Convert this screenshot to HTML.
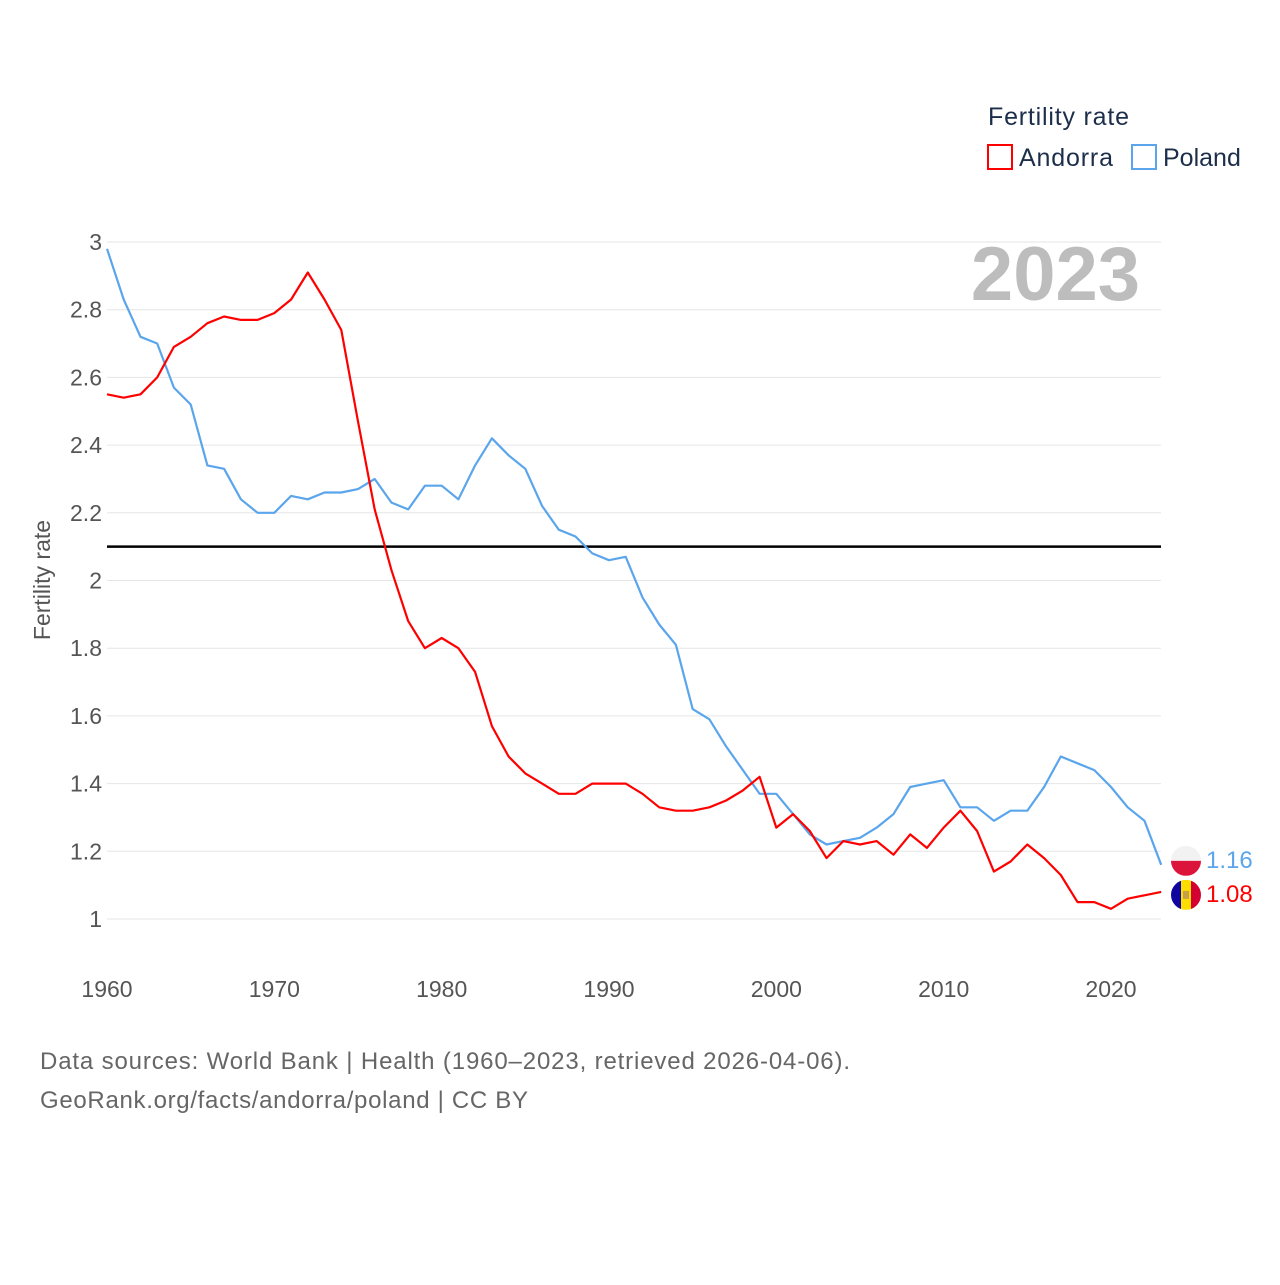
<!DOCTYPE html>
<html><head><meta charset="utf-8"><style>
body{margin:0;background:#fff;font-family:"Liberation Sans",sans-serif}
svg text{font-family:"Liberation Sans",sans-serif}
</style></head><body>
<svg id="chart" width="1280" height="1280" viewBox="0 0 1280 1280" xmlns="http://www.w3.org/2000/svg">
<rect width="1280" height="1280" fill="#fff"/>
<g id="grid"></g>
<g id="yticks"></g>
<g id="xticks"></g>
<text transform="translate(50,580) rotate(-90)" text-anchor="middle" font-size="23" fill="#555">Fertility rate</text>
<text x="1140" y="300" text-anchor="end" font-size="76" font-weight="bold" fill="#bdbdbd">2023</text>
<line id="refline" stroke="#000" stroke-width="2.5"/>
<g id="series"></g>
<g>
<text x="988" y="125" font-size="25" fill="#1c2e4a" textLength="141">Fertility rate</text>
<rect x="988" y="145" width="24" height="24" fill="none" stroke="#f00" stroke-width="2"/>
<text x="1019" y="166" font-size="25" fill="#1c2e4a" textLength="94">Andorra</text>
<rect x="1132" y="145" width="24" height="24" fill="none" stroke="#5aa5ec" stroke-width="2"/>
<text x="1163" y="166" font-size="25" fill="#1c2e4a">Poland</text>
</g>
<text x="40" y="1069" font-size="24" fill="#666" textLength="810">Data sources: World Bank | Health (1960–2023, retrieved 2026-04-06).</text>
<text x="40" y="1108" font-size="24" fill="#666" textLength="488">GeoRank.org/facts/andorra/poland | CC BY</text>
</svg>
<script>
const years=[];for(let y=1960;y<=2023;y++)years.push(y);
const andorra=[2.55,2.54,2.55,2.60,2.69,2.72,2.76,2.78,2.77,2.77,2.79,2.83,2.91,2.83,2.74,2.47,2.21,2.03,1.88,1.80,1.83,1.80,1.73,1.57,1.48,1.43,1.40,1.37,1.37,1.40,1.40,1.40,1.37,1.33,1.32,1.32,1.33,1.35,1.38,1.42,1.27,1.31,1.26,1.18,1.23,1.22,1.23,1.19,1.25,1.21,1.27,1.32,1.26,1.14,1.17,1.22,1.18,1.13,1.05,1.05,1.03,1.06,1.07,1.08];
const poland=[2.98,2.83,2.72,2.70,2.57,2.52,2.34,2.33,2.24,2.20,2.20,2.25,2.24,2.26,2.26,2.27,2.30,2.23,2.21,2.28,2.28,2.24,2.34,2.42,2.37,2.33,2.22,2.15,2.13,2.08,2.06,2.07,1.95,1.87,1.81,1.62,1.59,1.51,1.44,1.37,1.37,1.31,1.25,1.22,1.23,1.24,1.27,1.31,1.39,1.40,1.41,1.33,1.33,1.29,1.32,1.32,1.39,1.48,1.46,1.44,1.39,1.33,1.29,1.16];
const yTicks=[1,1.2,1.4,1.6,1.8,2,2.2,2.4,2.6,2.8,3];
const xTicks=[1960,1970,1980,1990,2000,2010,2020];
const refValue=2.1;
const NS="http://www.w3.org/2000/svg";
const X=y=>107+(y-1960)*(1111-107)/60;
const Y=v=>919-(v-1)*(919-242)/2;
function mk(t,a,p){const e=document.createElementNS(NS,t);for(const k in a)e.setAttribute(k,a[k]);p.appendChild(e);return e;}
const grid=document.getElementById('grid'),yt=document.getElementById('yticks'),xt=document.getElementById('xticks');
yTicks.forEach(v=>{
 const l=mk('line',{x1:107,x2:1161,y1:Y(v),y2:Y(v),stroke:'#e6e6e6','stroke-width':1},grid);
 
 
 const t=mk('text',{x:102,y:Y(v)+8,'text-anchor':'end','font-size':23,fill:'#555'},yt);
 t.textContent=String(v);
 
 
});
xTicks.forEach(v=>{
 const t=mk('text',{x:X(v),y:997,'text-anchor':'middle','font-size':23,fill:'#555'},xt);
 t.textContent=String(v);
 
 
});
const rl=document.getElementById('refline');
rl.setAttribute('x1',107);rl.setAttribute('x2',1161);rl.setAttribute('y1',Y(refValue));rl.setAttribute('y2',Y(refValue));
const sg=document.getElementById('series');
function line(data,color,name){
 const p=mk('path',{d:data.map((v,i)=>(i?'L':'M')+X(years[i]).toFixed(1)+','+Y(v).toFixed(1)).join(''),fill:'none',stroke:color,'stroke-width':2.2,'stroke-linejoin':'round'},sg);
 
 
}
line(poland,'#5aa5ec','poland-line');
line(andorra,'#f00','andorra-line');
const lastP=poland[poland.length-1],lastA=andorra[andorra.length-1];
const fx=1186,pY=Y(lastP)-4,aY=Y(lastA)+3;
const fp=mk('g',{},sg);


const cp=mk('clipPath',{id:'cp'},fp);mk('circle',{cx:fx,cy:pY,r:15},cp);
mk('rect',{x:fx-15,y:pY-15,width:30,height:15,fill:'#f2f2f2','clip-path':'url(#cp)'},fp);
mk('rect',{x:fx-15,y:pY,width:30,height:15,fill:'#dc143c','clip-path':'url(#cp)'},fp);
const fa=mk('g',{},sg);


const ca=mk('clipPath',{id:'ca'},fa);mk('circle',{cx:fx,cy:aY,r:15},ca);
mk('rect',{x:fx-15,y:aY-15,width:10,height:30,fill:'#10069f','clip-path':'url(#ca)'},fa);
mk('rect',{x:fx-5,y:aY-15,width:10,height:30,fill:'#fedd00','clip-path':'url(#ca)'},fa);
mk('rect',{x:fx+5,y:aY-15,width:10,height:30,fill:'#d50032','clip-path':'url(#ca)'},fa);
mk('rect',{x:fx-3,y:aY-4,width:6,height:8,fill:'#c7a04a'},fa);
const lp=mk('text',{x:1206,y:pY+7,'font-size':24,fill:'#5aa5ec'},sg);lp.textContent=lastP.toFixed(2);


const la=mk('text',{x:1206,y:aY+7,'font-size':24,fill:'#f00'},sg);la.textContent=lastA.toFixed(2);


</script>
</body></html>
